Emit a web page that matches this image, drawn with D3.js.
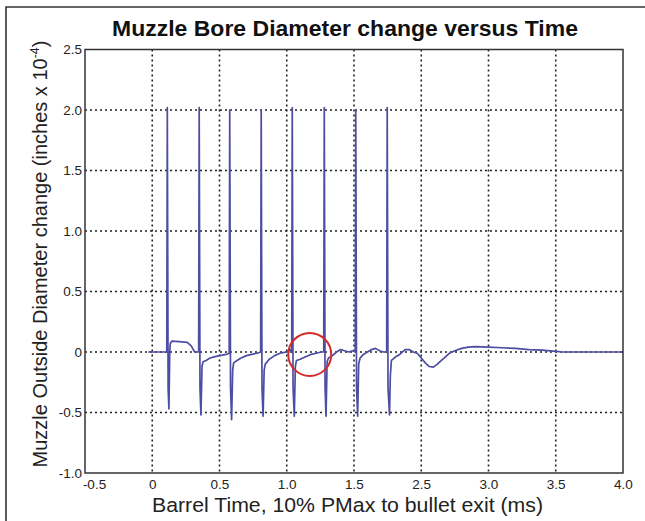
<!DOCTYPE html>
<html><head><meta charset="utf-8">
<script src="https://cdn.jsdelivr.net/npm/d3@7"></script>
<style>body{margin:0;background:#fff}svg{display:block}</style>
</head><body>
<svg id="c" width="645" height="521"></svg>
<script>
const chartTitle = "Muzzle Bore Diameter change versus Time";
const xAxisTitle = "Barrel Time, 10% PMax to bullet exit (ms)";
const yAxisTitleMain = "Muzzle Outside Diameter change (inches x 10";
const yAxisTitleSup = "-4";
const yAxisTitleEnd = ")";
const xTickValues = [-0.5, 0, 0.5, 1.0, 1.5, 2.0, 2.5, 3.0, 3.5];
const xTickLabels = ["-0.5", "0", "0.5", "1.0", "1.5", "2.5", "3.0", "3.5", "4.0"];
const yTickValues = [2.5, 2.0, 1.5, 1.0, 0.5, 0, -0.5, -1.0];
const yTickLabels = ["2.5", "2.0", "1.5", "1.0", "0.5", "0", "-0.5", "-1.0"];
const times = [-0.03,0.108,0.112,0.118,0.124,0.130,0.134,0.145,0.20,0.26,0.29,0.315,
  0.345,0.349,0.355,0.362,0.370,0.378,0.40,0.43,0.46,0.50,0.55,
  0.572,0.576,0.582,0.590,0.598,0.605,0.63,0.66,0.70,0.74,0.78,
  0.806,0.810,0.816,0.824,0.832,0.84,0.87,0.91,0.95,1.00,1.03,
  1.037,1.041,1.047,1.056,1.064,1.072,1.10,1.14,1.18,1.22,1.255,
  1.275,1.279,1.285,1.292,1.300,1.31,1.34,1.37,1.40,1.43,1.46,1.49,
  1.509,1.513,1.519,1.527,1.535,1.545,1.57,1.60,1.63,1.66,1.69,1.72,
  1.743,1.747,1.753,1.764,1.770,1.778,1.81,1.84,1.88,1.91,1.94,1.97,
  2.00,2.03,2.06,2.09,2.12,2.15,2.18,2.21,2.25,2.30,2.35,2.40,2.50,
  2.60,2.70,2.80,2.90,3.00,3.05,3.50];
const diameterChange = [0,0,2.02,-0.30,-0.47,0.00,0.07,0.09,0.085,0.08,0.05,0.0,
  0.0,2.02,-0.30,-0.52,-0.12,-0.08,-0.07,-0.05,-0.04,-0.03,-0.02,
  -0.01,2.00,-0.30,-0.56,-0.15,-0.09,-0.07,-0.05,-0.03,-0.02,-0.01,
  0.0,2.00,-0.30,-0.53,-0.15,-0.10,-0.06,-0.03,-0.01,0.0,0.02,
  0.0,2.02,-0.30,-0.53,-0.12,-0.07,-0.06,-0.04,-0.02,-0.01,0.0,
  0.0,2.02,-0.30,-0.53,-0.08,-0.05,-0.03,0.0,0.02,0.01,0.0,0.01,
  0.0,2.00,-0.30,-0.53,-0.10,-0.05,-0.02,0.0,0.02,0.03,0.01,0.0,
  0.0,2.02,-0.30,-0.52,-0.20,-0.07,-0.04,-0.02,0.02,0.02,0.0,-0.01,
  -0.05,-0.09,-0.12,-0.125,-0.10,-0.07,-0.04,-0.01,0.01,0.03,0.04,0.045,0.04,
  0.035,0.03,0.02,0.015,0.005,0.0,0.0];
const highlightTime = 1.171;
const highlightValue = -0.02;

const svg = d3.select("#c");
const font = "'Liberation Sans', Arial, Helvetica, sans-serif";
const L = 85, R = 623, T = 49.5, B = 473;
const x = d3.scaleLinear().domain([xTickValues[0], xTickValues[xTickValues.length-1]]).range([L, R]);
const y = d3.scaleLinear().domain([yTickValues[yTickValues.length-1], yTickValues[0]]).range([B, T]);

// outer frame
svg.append("path").attr("d", `M6,521 L6,7 L645,7`).attr("fill","none").attr("stroke","#333").attr("stroke-width",1.6);

// grid
const g = svg.append("g");
g.selectAll("line.vg").data(xTickValues.slice(1, -1)).join("line")
  .attr("x1", d => x(d)).attr("x2", d => x(d)).attr("y1", T).attr("y2", B)
  .attr("stroke", "#222").attr("stroke-width", 1.6).attr("stroke-dasharray", "2,3");
g.selectAll("line.hg").data(yTickValues.slice(1, -1)).join("line")
  .attr("y1", d => y(d)).attr("y2", d => y(d)).attr("x1", L).attr("x2", R)
  .attr("stroke", "#222").attr("stroke-width", 1.6).attr("stroke-dasharray", "2,3");

// data line
const line = d3.line().x(d => x(d[0])).y(d => y(d[1]));
const pts = times.map((t, i) => [t, diameterChange[i]]);
svg.append("path").datum(pts).attr("d", line).attr("fill", "none")
  .attr("stroke", "#4d4da3").attr("stroke-width", 1.7).attr("stroke-linejoin", "round");

// highlight circle
svg.append("circle").attr("cx", x(highlightTime)).attr("cy", y(highlightValue)).attr("r", 21.5)
  .attr("fill", "none").attr("stroke", "#d42a2a").attr("stroke-width", 2);

// axes box
svg.append("rect").attr("x", L).attr("y", T).attr("width", R - L).attr("height", B - T)
  .attr("fill", "none").attr("stroke", "#333").attr("stroke-width", 1.5);

// x axis labels
const xAxis = d3.axisBottom(x).tickValues(xTickValues).tickSize(0).tickPadding(6)
  .tickFormat((d, i) => xTickLabels[i]);
const xa = svg.append("g").attr("transform", `translate(0,${B})`).call(xAxis);
xa.select(".domain").remove();
xa.selectAll("text").attr("font-family", font).attr("font-size", 13.5).attr("fill", "#222")
  .attr("dx", (d, i) => i === 0 ? 9 : 0);

const yAxis = d3.axisLeft(y).tickValues(yTickValues).tickSize(0).tickPadding(3)
  .tickFormat((d, i) => yTickLabels[i]);
const ya = svg.append("g").attr("transform", `translate(${L},0)`).call(yAxis);
ya.select(".domain").remove();
ya.selectAll("text").attr("font-family", font).attr("font-size", 13.5).attr("fill", "#222");

// titles
svg.append("text").attr("x", 345).attr("y", 36).attr("text-anchor", "middle")
  .attr("font-family", font).attr("font-weight", "bold").attr("font-size", 22).attr("fill", "#111")
  .attr("textLength", 466).attr("lengthAdjust", "spacingAndGlyphs")
  .text(chartTitle);
svg.append("text").attr("x", 347.5).attr("y", 512).attr("text-anchor", "middle")
  .attr("font-family", font).attr("font-size", 20.5).attr("fill", "#222")
  .attr("textLength", 391).attr("lengthAdjust", "spacingAndGlyphs")
  .text(xAxisTitle);
const yt = svg.append("text").attr("transform", `translate(47,254) rotate(-90)`)
  .attr("text-anchor", "middle").attr("font-family", font).attr("font-size", 20).attr("fill", "#222");
yt.append("tspan").text(yAxisTitleMain);
yt.append("tspan").attr("font-size", 12.5).attr("dy", -8).text(yAxisTitleSup);
yt.append("tspan").attr("dy", 8).text(yAxisTitleEnd);
</script>
</body></html>
